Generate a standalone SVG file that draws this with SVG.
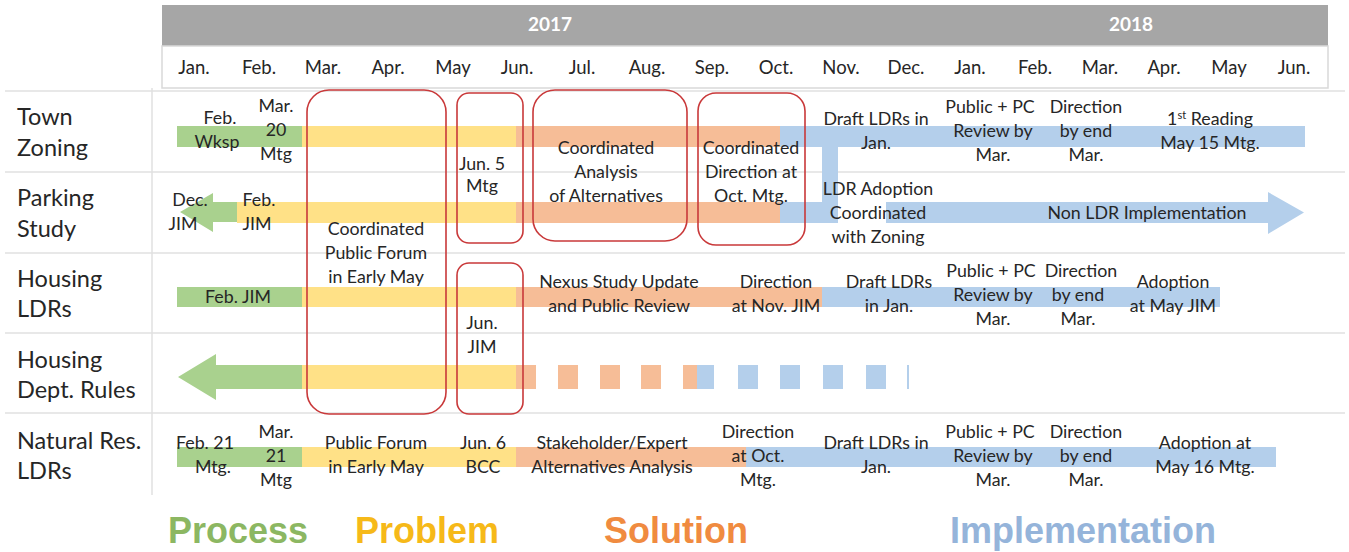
<svg xmlns="http://www.w3.org/2000/svg" width="1349" height="552" viewBox="0 0 1349 552">
<style>
text{font-family:Lato,"Liberation Sans",sans-serif;fill:#262626}
.m{font-size:18.5px;text-anchor:middle}
.yr{font-size:19px;font-weight:bold;fill:#fff;text-anchor:middle}
.rl{font-size:23.5px}
.t{font-size:17.8px;text-anchor:middle}
.g{fill:#a9d18e}.y{fill:#ffe187}.o{fill:#f6bd97}.b{fill:#b4cfeb}
.box{fill:none;stroke:#c9393a;stroke-width:1.6}
.sep{stroke:#e0e0e0;stroke-width:1.5}
.lg{font-family:"Liberation Sans",Arial,sans-serif;font-size:36px;font-weight:bold;text-anchor:middle}
</style>
<rect width="1349" height="552" fill="#fff"/>
<g id="header">
<rect x="162" y="5" width="1166" height="41" fill="#a6a6a6"/>
<rect x="162" y="46" width="1166" height="42" fill="#fff" stroke="#d9d9d9" stroke-width="1.5"/>
<text class="yr" x="550" y="31">2017</text>
<text class="yr" x="1131" y="31">2018</text>
<text class="m" x="194" y="74">Jan.</text><text class="m" x="259" y="74">Feb.</text><text class="m" x="323" y="74">Mar.</text><text class="m" x="388" y="74">Apr.</text><text class="m" x="453" y="74">May</text><text class="m" x="517" y="74">Jun.</text><text class="m" x="582" y="74">Jul.</text><text class="m" x="647" y="74">Aug.</text><text class="m" x="712" y="74">Sep.</text><text class="m" x="776" y="74">Oct.</text><text class="m" x="841" y="74">Nov.</text><text class="m" x="906" y="74">Dec.</text><text class="m" x="970" y="74">Jan.</text><text class="m" x="1035" y="74">Feb.</text><text class="m" x="1100" y="74">Mar.</text><text class="m" x="1164" y="74">Apr.</text><text class="m" x="1229" y="74">May</text><text class="m" x="1294" y="74">Jun.</text>
</g>
<g id="grid">
<line class="sep" x1="5" y1="91" x2="1345" y2="91"/>
<line class="sep" x1="5" y1="172" x2="1345" y2="172"/>
<line class="sep" x1="5" y1="253" x2="1345" y2="253"/>
<line class="sep" x1="5" y1="333" x2="1345" y2="333"/>
<line class="sep" x1="5" y1="413" x2="1345" y2="413"/>
<line class="sep" x1="152" y1="88" x2="152" y2="495"/>
</g>
<g id="connectors">
<rect class="b" x="822" y="126" width="16" height="97"/>
</g>
<g id="row-town-zoning">
<text class="rl" x="17" y="125">Town</text><text class="rl" x="17" y="156">Zoning</text>
<rect class="g" x="177" y="126" width="125" height="21"/><rect class="y" x="302" y="126" width="214" height="21"/><rect class="o" x="516" y="126" width="264" height="21"/><rect class="b" x="780" y="126" width="525" height="21"/>
<text class="t" x="220" y="124">Feb.</text><text class="t" x="217" y="148">Wksp</text>
<text class="t" x="276" y="112">Mar.</text><text class="t" x="276" y="136">20</text><text class="t" x="276" y="160">Mtg</text>
<text class="t" x="876" y="125">Draft LDRs in</text><text class="t" x="876" y="149">Jan.</text>
<text class="t" x="990" y="113">Public + PC</text><text class="t" x="993" y="137">Review by</text><text class="t" x="993" y="161">Mar.</text>
<text class="t" x="1086" y="113">Direction</text><text class="t" x="1086" y="137">by end</text><text class="t" x="1086" y="161">Mar.</text>
<text class="t" x="1210" y="125">1<tspan font-size="11" dy="-6">st</tspan><tspan dy="6"> Reading</tspan></text><text class="t" x="1210" y="149">May 15 Mtg.</text>
</g>
<g id="row-parking-study">
<text class="rl" x="17" y="206">Parking</text><text class="rl" x="17" y="237">Study</text>
<polygon class="g" points="180,212 213,193 213,202 237,202 237,222 213,222 213,232"/>
<rect class="y" x="237" y="202" width="279" height="21"/><rect class="o" x="516" y="202" width="264" height="21"/><rect class="b" x="780" y="202" width="58" height="21"/>
<polygon class="b" points="886,202 1268,202 1268,192 1304,212.5 1268,234 1268,223 886,223"/>
<text class="t" x="190" y="206">Dec.</text><text class="t" x="183" y="230">JIM</text>
<text class="t" x="259" y="206">Feb.</text><text class="t" x="257" y="230">JIM</text>
<text class="t" x="878" y="195">LDR Adoption</text><text class="t" x="878" y="219">Coordinated</text><text class="t" x="878" y="243">with Zoning</text>
<text class="t" x="1147" y="219">Non LDR Implementation</text>
</g>
<g id="row-housing-ldrs">
<text class="rl" x="17" y="287">Housing</text><text class="rl" x="17" y="317">LDRs</text>
<rect class="g" x="177" y="287" width="125" height="20"/><rect class="y" x="302" y="287" width="214" height="20"/><rect class="o" x="516" y="287" width="306" height="20"/><rect class="b" x="822" y="287" width="398" height="20"/>
<text class="t" x="238" y="303">Feb. JIM</text>
<text class="t" x="619" y="288">Nexus Study Update</text><text class="t" x="619" y="312">and Public Review</text>
<text class="t" x="776" y="288">Direction</text><text class="t" x="776" y="312">at Nov. JIM</text>
<text class="t" x="889" y="288">Draft LDRs</text><text class="t" x="889" y="312">in Jan.</text>
<text class="t" x="991" y="277">Public + PC</text><text class="t" x="993" y="301">Review by</text><text class="t" x="993" y="325">Mar.</text>
<text class="t" x="1081" y="277">Direction</text><text class="t" x="1078" y="301">by end</text><text class="t" x="1078" y="325">Mar.</text>
<text class="t" x="1173" y="288">Adoption</text><text class="t" x="1173" y="312">at May JIM</text>
</g>
<g id="row-housing-dept-rules">
<text class="rl" x="17" y="368">Housing</text><text class="rl" x="17" y="398">Dept. Rules</text>
<polygon class="g" points="178,377 216,354 216,365 302,365 302,389 216,389 216,400"/>
<rect class="y" x="302" y="365" width="214" height="24"/>
<g class="o"><rect x="516" y="365" width="20" height="24"/><rect x="558" y="365" width="20" height="24"/><rect x="600" y="365" width="20" height="24"/><rect x="641" y="365" width="20" height="24"/><rect x="683" y="365" width="14" height="24"/></g>
<g class="b"><rect x="697" y="365" width="17" height="24"/><rect x="738" y="365" width="20" height="24"/><rect x="780" y="365" width="20" height="24"/><rect x="823" y="365" width="20" height="24"/><rect x="866" y="365" width="20" height="24"/><rect x="907" y="365" width="2" height="24"/></g>
</g>
<g id="row-natural-res-ldrs">
<text class="rl" x="17" y="449">Natural Res.</text><text class="rl" x="17" y="479">LDRs</text>
<rect class="g" x="177" y="447" width="125" height="20"/><rect class="y" x="302" y="447" width="214" height="20"/><rect class="o" x="516" y="447" width="230" height="20"/><rect class="b" x="746" y="447" width="530" height="20"/>
<text class="t" x="205" y="449">Feb. 21</text><text class="t" x="213" y="473">Mtg.</text>
<text class="t" x="276" y="438">Mar.</text><text class="t" x="276" y="462">21</text><text class="t" x="276" y="486">Mtg</text>
<text class="t" x="376" y="449">Public Forum</text><text class="t" x="376" y="473">in Early May</text>
<text class="t" x="483" y="449">Jun. 6</text><text class="t" x="483" y="473">BCC</text>
<text class="t" x="612" y="449">Stakeholder/Expert</text><text class="t" x="612" y="473">Alternatives Analysis</text>
<text class="t" x="758" y="438">Direction</text><text class="t" x="758" y="462">at Oct.</text><text class="t" x="758" y="486">Mtg.</text>
<text class="t" x="876" y="449">Draft LDRs in</text><text class="t" x="876" y="473">Jan.</text>
<text class="t" x="990" y="438">Public + PC</text><text class="t" x="993" y="462">Review by</text><text class="t" x="993" y="486">Mar.</text>
<text class="t" x="1086" y="438">Direction</text><text class="t" x="1086" y="462">by end</text><text class="t" x="1086" y="486">Mar.</text>
<text class="t" x="1205" y="449">Adoption at</text><text class="t" x="1205" y="473">May 16 Mtg.</text>
</g>
<g id="box-public-forum">
<rect class="box" x="307" y="90" width="139" height="324" rx="22"/>
<text class="t" x="376" y="235">Coordinated</text><text class="t" x="376" y="259">Public Forum</text><text class="t" x="376" y="283">in Early May</text>
</g>
<g id="box-jun5">
<rect class="box" x="457" y="93" width="66" height="150" rx="12"/>
<text class="t" x="482" y="170">Jun. 5</text><text class="t" x="482" y="192">Mtg</text>
</g>
<g id="box-jun-jim">
<rect class="box" x="457" y="263" width="66" height="151" rx="12"/>
<text class="t" x="482" y="329">Jun.</text><text class="t" x="482" y="353">JIM</text>
</g>
<g id="box-analysis">
<rect class="box" x="533" y="90" width="154" height="151" rx="22"/>
<text class="t" x="606" y="154">Coordinated</text><text class="t" x="606" y="178">Analysis</text><text class="t" x="606" y="202">of Alternatives</text>
</g>
<g id="box-direction">
<rect class="box" x="698" y="93" width="107" height="152" rx="18"/>
<text class="t" x="751" y="154">Coordinated</text><text class="t" x="751" y="178">Direction at</text><text class="t" x="751" y="202">Oct. Mtg.</text>
</g>
<g id="legend">
<text class="lg" x="238" y="543" style="fill:#8cb762">Process</text>
<text class="lg" x="427" y="543" style="fill:#f6b919">Problem</text>
<text class="lg" x="676" y="543" style="fill:#f08b40">Solution</text>
<text class="lg" x="1083" y="543" style="fill:#95b4da">Implementation</text>
</g>
</svg>
